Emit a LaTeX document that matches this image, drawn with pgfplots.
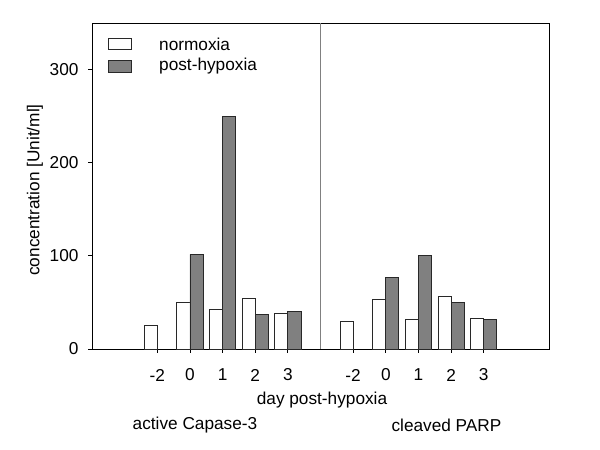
\documentclass[border=0pt]{standalone}
\usepackage{fontspec}
\setmainfont{Liberation Sans}
\usepackage{pgfplots}
\pgfplotsset{compat=1.18}
\definecolor{hyp}{RGB}{128,128,128}
\definecolor{edge}{RGB}{40,40,40}
\newcommand{\fs}{\fontsize{17.3}{20}\selectfont}
\begin{document}
\begin{tikzpicture}[x=1bp,y=1bp]
\path[use as bounding box] (0,0) rectangle (600,450);
\begin{axis}[
  at={(92bp,101bp)}, anchor=south west,
  scale only axis, width=457bp, height=326bp,
  xmin=-2, xmax=12, ymin=0, ymax=350,
  xtick={0,1,2,3,4,6,7,8,9,10},
  xticklabels={-2,0,1,2,3,-2,0,1,2,3},
  ytick={0,100,200,300},
  tick pos=left, tick align=outside,
  major tick length=4bp,
  axis line style={black, line width=0.8bp},
  tick style={black, line width=0.8bp},
  /pgf/number format/assume math mode=true,
  tick label style={font=\fs},
  xticklabel style={anchor=center, yshift=-26bp+4bp},
  yticklabel style={anchor=east, xshift=-6bp},
  clip=false,
]
\addplot[ybar, bar width=0.4, bar shift=-0.2, fill=white, draw=edge, line width=0.8bp]
  coordinates {(0,25) (1,50) (2,42.5) (3,54) (4,38)
               (6,30) (7,53) (8,32) (9,56.5) (10,33)};
\addplot[ybar, bar width=0.4, bar shift=0.2, fill=hyp, draw=edge, line width=0.8bp]
  coordinates {(1,101.5) (2,250) (3,37.5) (4,40.5)
               (7,77) (8,100.5) (9,49.5) (10,32)};
\draw[gray, line width=0.8bp] (axis cs:5,0) -- (axis cs:5,350);
\end{axis}
\begin{scope}[every node/.style={font=\fs, inner sep=0pt}]
\node[rotate=90] at (35,260) {concentration [Unit/ml]};
\node at (322,50) {day post-hypoxia};
\node at (195,25) {active Capase-3};
\node at (446.5,25) {cleaved PARP};
\draw[edge, fill=white, line width=0.8bp] (108,401) rectangle (131,412);
\draw[edge, fill=hyp, line width=0.8bp] (108,378) rectangle (131,390);
\node[anchor=west] at (159,406) {normoxia};
\node[anchor=west] at (159,384) {post-hypoxia};
\end{scope}
\end{tikzpicture}
\end{document}
